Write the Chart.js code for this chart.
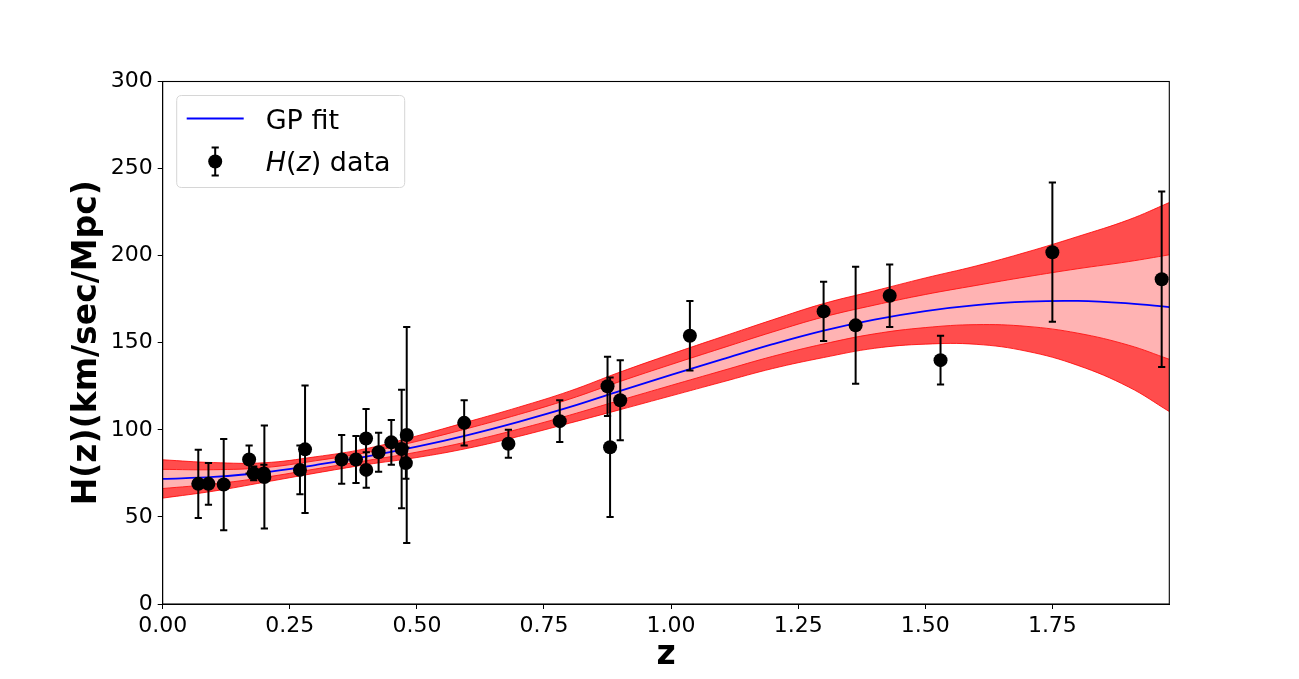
<!DOCTYPE html>
<html>
<head>
<meta charset="utf-8">
<script src="https://cdn.jsdelivr.net/npm/chart.js@4.4.0/dist/chart.umd.min.js"></script>
<style>
html,body{margin:0;padding:0;background:#ffffff;}
#wrap{width:1299px;height:679px;position:relative;}
</style>
</head>
<body>
<div id="wrap"><canvas id="c" width="1299" height="679"></canvas></div>
<script>
// ---- Observational H(z) data ----
const dataZ   = [0.07, 0.09, 0.12, 0.17, 0.179, 0.199, 0.20, 0.27, 0.28, 0.352, 0.3802, 0.40, 0.4004, 0.4247, 0.4497, 0.47, 0.4783, 0.48, 0.593, 0.68, 0.781, 0.875, 0.88, 0.90, 1.037, 1.30, 1.363, 1.43, 1.53, 1.75, 1.965];
const dataH   = [69, 69, 68.6, 83, 75, 75, 72.9, 77, 88.8, 83, 83, 95, 77, 87.1, 92.8, 89, 80.9, 97, 104, 92, 105, 125, 90, 117, 154, 168, 160, 177, 140, 202, 186.5];
const dataErr = [19.6, 12, 26.2, 8, 4, 5, 29.6, 14, 36.6, 14, 13.5, 17, 10.2, 11.2, 12.9, 34, 9, 62, 13, 8, 12, 17, 40, 23, 20, 17, 33.6, 18, 14, 40, 50.4];

// ---- GP reconstruction ----
const gpZ      = [0.00, 0.10, 0.20, 0.30, 0.40, 0.50, 0.60, 0.70, 0.80, 0.90, 1.00, 1.10, 1.20, 1.30, 1.40, 1.50, 1.60, 1.70, 1.80, 1.90, 1.98];
const gpMean   = [71.8, 73.0, 75.5, 79.8, 84.6, 90.3, 97.0, 104.6, 113.0, 122.4, 131.5, 140.4, 149.2, 157.0, 163.3, 168.2, 171.6, 173.6, 174.0, 172.6, 170.5];
const gpUpper1 = [77.3, 77.1, 78.3, 82.2, 86.9, 93.4, 100.8, 108.8, 117.6, 127.8, 137.5, 146.9, 156.2, 164.8, 171.6, 177.7, 182.9, 187.9, 192.5, 196.6, 200.5];
const gpLower1 = [66.3, 68.9, 72.7, 77.5, 82.3, 87.2, 93.2, 100.4, 108.4, 117.0, 125.5, 133.9, 142.2, 149.3, 155.1, 158.7, 160.4, 159.4, 155.5, 148.6, 140.5];
const gpUpper2 = [82.8, 81.2, 81.1, 84.5, 89.2, 96.5, 104.6, 113.0, 122.2, 133.2, 143.5, 153.4, 163.2, 172.5, 179.8, 187.2, 194.1, 202.1, 211.0, 220.6, 230.5];
const gpLower2 = [60.8, 64.8, 69.9, 75.1, 80.0, 84.1, 89.4, 96.2, 103.8, 111.6, 119.5, 127.4, 135.2, 141.5, 146.8, 149.2, 149.1, 145.1, 137.0, 124.6, 110.5];

// ---- Axes ----
const xTicks = [0, 0.25, 0.5, 0.75, 1.0, 1.25, 1.5, 1.75];
const yTicks = [0, 50, 100, 150, 200, 250, 300];
const xMin = 0, xMax = 1.98, yMin = 0, yMax = 300;
const xTitle = 'z';
const yTitle = 'H(z)(km/sec/Mpc)';
const legendLabels = ['GP fit', 'H(z) data'];

Chart.defaults.font.family = '"DejaVu Sans", sans-serif';
Chart.defaults.color = '#000000';

const pts = (ys) => gpZ.map((z, i) => ({x: z, y: ys[i]}));

const errorBarPlugin = {
  id: 'errorBars',
  beforeDatasetDraw(chart, args) {
    if (args.index !== 5) return;
    const ctx = chart.ctx, xs = chart.scales.x, ys = chart.scales.y;
    ctx.save();
    ctx.strokeStyle = '#000000';
    ctx.lineWidth = 2;
    const cap = 3.6;
    for (let i = 0; i < dataZ.length; i++) {
      const px = xs.getPixelForValue(dataZ[i]);
      const pTop = ys.getPixelForValue(dataH[i] + dataErr[i]);
      const pBot = ys.getPixelForValue(dataH[i] - dataErr[i]);
      ctx.beginPath();
      ctx.moveTo(px, pTop); ctx.lineTo(px, pBot);
      ctx.moveTo(px - cap, pTop); ctx.lineTo(px + cap, pTop);
      ctx.moveTo(px - cap, pBot); ctx.lineTo(px + cap, pBot);
      ctx.stroke();
    }
    ctx.restore();
  }
};

const framePlugin = {
  id: 'frame',
  afterDraw(chart) {
    const {ctx, chartArea: a} = chart;
    ctx.save();
    ctx.strokeStyle = '#000000';
    ctx.lineWidth = 1.1;
    ctx.strokeRect(a.left, a.top, a.right - a.left, a.bottom - a.top);
    ctx.restore();
  }
};

const legendPlugin = {
  id: 'mplLegend',
  afterDraw(chart) {
    const {ctx, chartArea: a} = chart;
    const x0 = a.left + 14, y0 = a.top + 14, w = 228, h = 92, r = 5;
    ctx.save();
    ctx.beginPath();
    ctx.moveTo(x0 + r, y0);
    ctx.lineTo(x0 + w - r, y0); ctx.quadraticCurveTo(x0 + w, y0, x0 + w, y0 + r);
    ctx.lineTo(x0 + w, y0 + h - r); ctx.quadraticCurveTo(x0 + w, y0 + h, x0 + w - r, y0 + h);
    ctx.lineTo(x0 + r, y0 + h); ctx.quadraticCurveTo(x0, y0 + h, x0, y0 + h - r);
    ctx.lineTo(x0, y0 + r); ctx.quadraticCurveTo(x0, y0, x0 + r, y0);
    ctx.closePath();
    ctx.fillStyle = 'rgba(255,255,255,0.8)';
    ctx.fill();
    ctx.strokeStyle = '#d6d6d6';
    ctx.lineWidth = 1;
    ctx.stroke();

    // GP fit line sample
    ctx.strokeStyle = '#0000ff';
    ctx.lineWidth = 1.8;
    ctx.beginPath();
    ctx.moveTo(x0 + 10, y0 + 23); ctx.lineTo(x0 + 67, y0 + 23);
    ctx.stroke();

    // error bar sample
    const mx = x0 + 38.5, my = y0 + 66;
    ctx.strokeStyle = '#000000';
    ctx.lineWidth = 2;
    ctx.beginPath();
    ctx.moveTo(mx, my - 14); ctx.lineTo(mx, my + 14);
    ctx.moveTo(mx - 3.6, my - 14); ctx.lineTo(mx + 3.6, my - 14);
    ctx.moveTo(mx - 3.6, my + 14); ctx.lineTo(mx + 3.6, my + 14);
    ctx.stroke();
    ctx.fillStyle = '#000000';
    ctx.beginPath(); ctx.arc(mx, my, 7, 0, Math.PI * 2); ctx.fill();

    // labels
    ctx.fillStyle = '#000000';
    ctx.textBaseline = 'alphabetic';
    ctx.textAlign = 'left';
    const fam = '"DejaVu Sans", sans-serif';
    ctx.font = '27px ' + fam;
    ctx.fillText(legendLabels[0], x0 + 89, y0 + 33);
    const parts = [['H', 'italic'], ['(', 'normal'], ['z', 'italic'], [')', 'normal'], [' data', 'normal']];
    let tx = x0 + 89;
    for (const [t, st] of parts) {
      ctx.font = st + ' 27px ' + fam;
      ctx.fillText(t, tx, y0 + 75);
      tx += ctx.measureText(t).width;
    }
    ctx.restore();
  }
};

const lineCommon = {type: 'line', pointRadius: 0, tension: 0.4, cubicInterpolationMode: 'default'};

new Chart(document.getElementById('c'), {
  type: 'scatter',
  data: {
    datasets: [
      Object.assign({label: 'upper2', data: pts(gpUpper2), fill: {target: 1}, backgroundColor: 'rgb(255,77,77)', borderColor: 'rgba(255,0,0,0.8)', borderWidth: 1, order: 6}, lineCommon),
      Object.assign({label: 'lower2', data: pts(gpLower2), fill: false, borderColor: 'rgba(255,0,0,0.8)', borderWidth: 1, order: 5}, lineCommon),
      Object.assign({label: 'upper1', data: pts(gpUpper1), fill: {target: 3}, backgroundColor: 'rgb(255,179,179)', borderColor: 'rgba(255,20,20,0.9)', borderWidth: 1, order: 4}, lineCommon),
      Object.assign({label: 'lower1', data: pts(gpLower1), fill: false, borderColor: 'rgba(255,20,20,0.9)', borderWidth: 1, order: 3}, lineCommon),
      Object.assign({label: legendLabels[0], data: pts(gpMean), fill: false, borderColor: '#0000ff', borderWidth: 1.8, order: 2}, lineCommon),
      {label: legendLabels[1], data: dataZ.map((z, i) => ({x: z, y: dataH[i]})), pointRadius: 7, pointHoverRadius: 7, backgroundColor: '#000000', borderWidth: 0, order: 1}
    ]
  },
  options: {
    responsive: false,
    animation: false,
    events: [],
    layout: {padding: {left: 0, right: 129.7, top: 81.5, bottom: 0}},
    plugins: {legend: {display: false}, tooltip: {enabled: false}},
    scales: {
      x: {
        type: 'linear', min: xMin, max: xMax,
        afterBuildTicks: (s) => { s.ticks = xTicks.map(v => ({value: v})); },
        afterFit: (s) => { s.height = 75; },
        ticks: {font: {size: 22}, padding: 4, maxRotation: 0, callback: (v) => Number(v).toFixed(2)},
        grid: {display: true, drawOnChartArea: false, drawTicks: true, tickLength: 5, color: '#000000', lineWidth: 1},
        border: {display: true, color: '#000000', width: 1},
        title: {display: true, text: xTitle, font: {size: 33, weight: 'bold'}, padding: {top: 0, bottom: 4}}
      },
      y: {
        type: 'linear', min: yMin, max: yMax,
        afterBuildTicks: (s) => { s.ticks = yTicks.map(v => ({value: v})); },
        afterFit: (s) => { s.width = 162.7; },
        ticks: {font: {size: 22}, padding: 5, callback: (v) => String(v)},
        grid: {display: true, drawOnChartArea: false, drawTicks: true, tickLength: 5, color: '#000000', lineWidth: 1},
        border: {display: true, color: '#000000', width: 1},
        title: {display: true, text: yTitle, font: {size: 33, weight: 'bold'}, padding: {top: 68, bottom: 0}}
      }
    }
  },
  plugins: [errorBarPlugin, framePlugin, legendPlugin]
});
</script>
</body>
</html>
